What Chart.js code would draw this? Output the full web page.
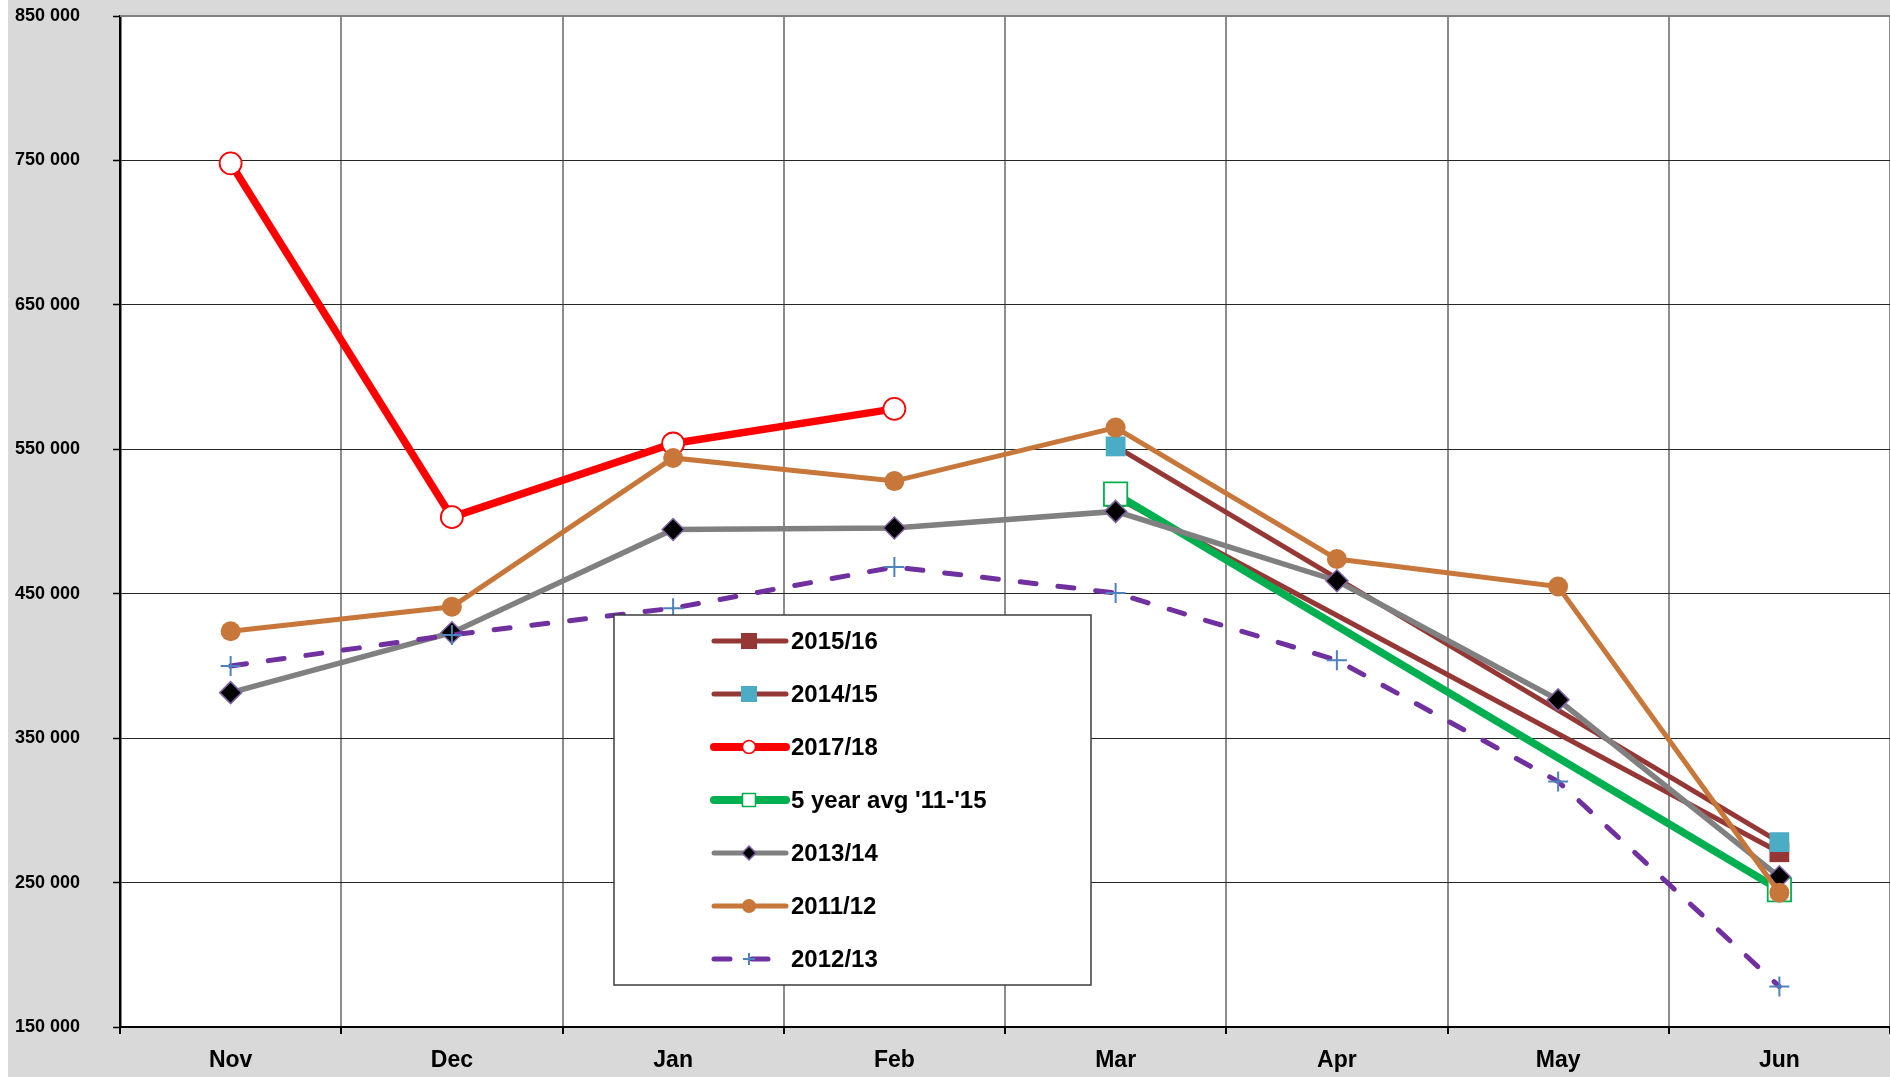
<!DOCTYPE html>
<html>
<head>
<meta charset="utf-8">
<style>
html,body{margin:0;padding:0;background:#d9d9d9;overflow:hidden;width:1890px;height:1077px;}
#c{display:block;width:1890px;height:1077px;}
</style>
<script src="https://cdn.jsdelivr.net/npm/chart.js@4.4.1/dist/chart.umd.min.js"></script>
</head>
<body>
<canvas id="c" width="1890" height="1077"></canvas>
<script>
// ---- data ----
const months = ['Nov','Dec','Jan','Feb','Mar','Apr','May','Jun'];
const yTicks = [150000,250000,350000,450000,550000,650000,750000,850000];
const s2015_16 = [null,null,null,null,517000,null,null,271000];
const s2014_15 = [null,null,null,null,552000,null,null,278000];
const s2017_18 = [748000,503000,554000,578000,null,null,null,null];
const avg5yr   = [null,null,null,null,519000,null,null,245000];
const s2013_14 = [381500,423000,494500,495500,507000,459000,376500,254000];
const s2011_12 = [424000,441000,544000,528000,565000,474000,455000,243000];
const s2012_13 = [400000,421500,440000,468500,450500,404000,320000,178000];
const seriesLabels = ['2015/16','2014/15','2017/18',"5 year avg '11-'15",'2013/14','2011/12','2012/13'];

const FONT = '"Liberation Sans", Arial, Helvetica, sans-serif';

function fmt(v){ return String(v).replace(/\B(?=(\d{3})+(?!\d))/g,' '); }

// marker drawing for custom legend
function drawMarker(ctx, style, x, y, r, fill, stroke, bw){
  ctx.save();
  ctx.beginPath();
  if(style==='circle'){ ctx.arc(x,y,r,0,Math.PI*2); }
  else if(style==='rect'){ ctx.rect(x-r,y-r,2*r,2*r); }
  else if(style==='rectRot'){ ctx.moveTo(x,y-r); ctx.lineTo(x+r,y); ctx.lineTo(x,y+r); ctx.lineTo(x-r,y); ctx.closePath(); }
  else if(style==='cross'){ ctx.moveTo(x-r,y); ctx.lineTo(x+r,y); ctx.moveTo(x,y-r); ctx.lineTo(x,y+r);
    ctx.strokeStyle=stroke; ctx.lineWidth=bw; ctx.stroke(); ctx.restore(); return; }
  if(fill){ ctx.fillStyle=fill; ctx.fill(); }
  if(stroke && bw){ ctx.strokeStyle=stroke; ctx.lineWidth=bw; ctx.stroke(); }
  ctx.restore();
}

const legendMarkers = [
  {style:'rect', r:8, fill:'#953735', stroke:null, bw:0, lw:5, dash:[]},
  {style:'rect', r:8, fill:'#4bacc6', stroke:null, bw:0, lw:5, dash:[]},
  {style:'circle', r:6.5, fill:'#ffffff', stroke:'#ff0000', bw:1.5, lw:8, dash:[]},
  {style:'rect', r:6.5, fill:'#ffffff', stroke:'#00b050', bw:1.5, lw:8, dash:[]},
  {style:'rectRot', r:7, fill:'#000000', stroke:'#8064a2', bw:1.5, lw:5, dash:[]},
  {style:'circle', r:7, fill:'#c8773a', stroke:null, bw:0, lw:5, dash:[]},
  {style:'cross', r:6, fill:null, stroke:'#4f81bd', bw:2, lw:5, dash:[16,22]}
];
const legendColors = ['#953735','#953735','#ff0000','#00b050','#808080','#c8773a','#7030a0'];

const bgPlugin = {
  id:'bg',
  beforeDraw(chart){
    const ctx = chart.ctx, a = chart.chartArea;
    ctx.save();
    ctx.fillStyle='#d9d9d9'; ctx.fillRect(0,0,chart.width,chart.height);
    ctx.fillStyle='#ffffff'; ctx.fillRect(0,0,8,chart.height);
    ctx.fillRect(a.left,a.top,a.right-a.left,a.bottom-a.top);
    ctx.restore();
  },
  afterDatasetsDraw(chart){
    const ctx = chart.ctx, a = chart.chartArea;
    ctx.save();
    ctx.strokeStyle='#808080'; ctx.lineWidth=2;
    ctx.beginPath(); ctx.moveTo(a.left,a.top); ctx.lineTo(a.right,a.top); ctx.stroke();
    ctx.restore();
  }
};

const legendPlugin = {
  id:'boxLegend',
  afterDraw(chart){
    const ctx = chart.ctx, a = chart.chartArea;
    const bx = a.left + 494, by = a.top + 599, bw = 477, bh = 370;
    ctx.save();
    ctx.fillStyle='#ffffff'; ctx.fillRect(bx,by,bw,bh);
    ctx.strokeStyle='#3c3c3c'; ctx.lineWidth=1.5; ctx.strokeRect(bx,by,bw,bh);
    ctx.font = 'bold 24px ' + FONT;
    ctx.textBaseline='middle'; ctx.textAlign='left';
    for(let i=0;i<seriesLabels.length;i++){
      const y = by + 26 + i*53;
      const m = legendMarkers[i];
      const x0 = bx + 100, x1 = bx + 172, xc = bx + 135;
      ctx.save();
      ctx.strokeStyle = legendColors[i]; ctx.lineWidth = m.lw; ctx.lineCap='round';
      ctx.setLineDash(m.dash);
      ctx.beginPath(); ctx.moveTo(x0,y); ctx.lineTo(x1,y); ctx.stroke();
      ctx.restore();
      drawMarker(ctx, m.style, xc, y, m.r, m.fill, m.stroke, m.bw);
      ctx.fillStyle='#000'; ctx.fillText(seriesLabels[i], bx + 177, y+1);
    }
    ctx.restore();
  }
};

const n = seriesLabels.length;
const datasets = [
  {label:seriesLabels[0], data:s2015_16, borderColor:'#953735', borderWidth:5, spanGaps:true,
   pointStyle:'rect', pointRadius:14, pointBackgroundColor:'#953735', pointBorderWidth:0},
  {label:seriesLabels[1], data:s2014_15, borderColor:'#953735', borderWidth:5, spanGaps:true,
   pointStyle:'rect', pointRadius:14, pointBackgroundColor:'#4bacc6', pointBorderWidth:0},
  {label:seriesLabels[2], data:s2017_18, borderColor:'#ff0000', borderWidth:7.5,
   pointStyle:'circle', pointRadius:11, pointBackgroundColor:'#ffffff', pointBorderColor:'#ff0000', pointBorderWidth:1.8},
  {label:seriesLabels[3], data:avg5yr, borderColor:'#00b050', borderWidth:7.5, spanGaps:true,
   pointStyle:'rect', pointRadius:16.5, pointBackgroundColor:'#ffffff', pointBorderColor:'#00b050', pointBorderWidth:1.8},
  {label:seriesLabels[4], data:s2013_14, borderColor:'#808080', borderWidth:5.5,
   pointStyle:'rectRot', pointRadius:11, pointBackgroundColor:'#000000', pointBorderColor:'#8064a2', pointBorderWidth:1.5},
  {label:seriesLabels[5], data:s2011_12, borderColor:'#c8773a', borderWidth:5,
   pointStyle:'circle', pointRadius:10, pointBackgroundColor:'#c8773a', pointBorderColor:'#c8773a', pointBorderWidth:0},
  {label:seriesLabels[6], data:s2012_13, borderColor:'#7030a0', borderWidth:5, borderDash:[16,22], borderCapStyle:'round',
   pointStyle:'cross', pointRadius:10, pointBorderColor:'#4f81bd', pointBorderWidth:2}
].map((d,i)=>Object.assign({tension:0, fill:false, order:n-i, clip:false}, d));

const noPad = () => ({left:0, top:0, right:0, bottom:0});

new Chart(document.getElementById('c'), {
  type:'line',
  data:{labels:months, datasets:datasets},
  options:{
    responsive:false, animation:false, events:[],
    layout:{autoPadding:false, padding:{top:16, right:-4, bottom:0, left:0}},
    plugins:{legend:{display:false}, tooltip:{enabled:false}, title:{display:false}},
    scales:{
      x:{
        offset:true,
        grid:{offset:true, color:'#8c8c8c', lineWidth:2, tickLength:7, tickColor:'#000', tickWidth:2},
        border:{color:'#000', width:2},
        ticks:{color:'#000', font:{family:FONT, size:23, weight:'bold'}, padding:13, maxRotation:0, autoSkip:false},
        afterFit(s){ s.height = 50; s.paddingLeft = 0; s.paddingRight = 0; s.getPadding = noPad; }
      },
      y:{
        min:yTicks[0], max:yTicks[yTicks.length-1],
        afterBuildTicks(s){ s.ticks = yTicks.map(v=>({value:v})); },
        grid:{color:'#262626', lineWidth:1, tickLength:7, tickColor:'#000', tickWidth:1.5},
        border:{color:'#000', width:2.5},
        ticks:{color:'#000', font:{family:FONT, size:18, weight:'bold'}, padding:33, callback:(v)=>fmt(v)},
        afterFit(s){ s.width = 120; s.paddingTop = 0; s.paddingBottom = 0; s.getPadding = noPad; }
      }
    }
  },
  plugins:[bgPlugin, legendPlugin]
});
</script>
</body>
</html>
